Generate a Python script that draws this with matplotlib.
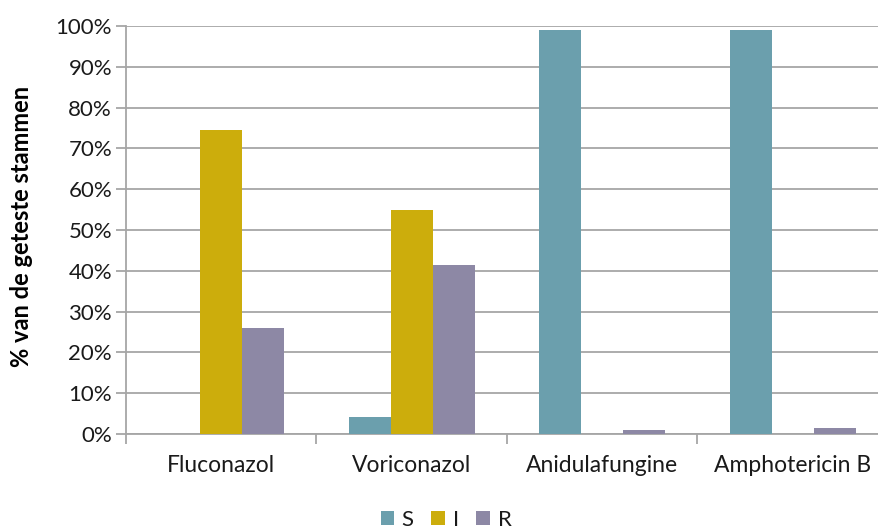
import matplotlib
matplotlib.use("Agg")
import matplotlib.pyplot as plt
import numpy as np
from matplotlib.ticker import FuncFormatter, FixedLocator

plt.rcParams['font.family'] = ['Lato', 'DejaVu Sans']

categories = ["Fluconazol", "Voriconazol", "Anidulafungine", "Amphotericin B"]
series_names = ["S", "I", "R"]
s_values = [0.0, 4.1, 99.0, 99.0]
i_values = [74.5, 54.9, 0.0, 0.0]
r_values = [26.0, 41.4, 1.0, 1.4]
y_ticks = [0, 10, 20, 30, 40, 50, 60, 70, 80, 90, 100]

colors = ["#6B9FAD", "#CCAD0C", "#8D88A5"]
grid_color = "#A6A6A6"

W, H = 879, 532
fig = plt.figure(figsize=(W / 100, H / 100), dpi=100)
left, right, top, bottom = 126, 888, 26, 434
ax = fig.add_axes([left / W, 1 - bottom / H, (right - left) / W, (bottom - top) / H])

x = np.arange(len(categories))
width = 0.22
for k, (vals, name) in enumerate(zip([s_values, i_values, r_values], series_names)):
    ax.bar(x + (k - 1) * width, vals, width, color=colors[k], label=name, zorder=3)

ax.set_xlim(-0.5, len(categories) - 0.5)
ax.set_ylim(0, 100)
ax.set_yticks(y_ticks)
ax.yaxis.set_major_formatter(FuncFormatter(lambda v, p: f"{int(v)}%"))
ax.grid(axis='y', color=grid_color, linewidth=1.3, zorder=0)
ax.set_axisbelow(True)

for s in ['top', 'right']:
    ax.spines[s].set_visible(False)
for s in ['left', 'bottom']:
    ax.spines[s].set_color(grid_color)
    ax.spines[s].set_linewidth(1.3)

ax.tick_params(axis='y', length=7, width=1.3, color=grid_color, labelsize=16,
               labelcolor="#1a1a1a", pad=3)
ax.xaxis.set_major_locator(FixedLocator(np.arange(-0.5, len(categories), 1.0)))
ax.xaxis.set_major_formatter(FuncFormatter(lambda v, p: ""))
ax.xaxis.set_minor_locator(FixedLocator(x))
ax.set_xticklabels(categories, minor=True)
ax.tick_params(axis='x', which='major', length=7, width=1.3, color=grid_color)
ax.tick_params(axis='x', which='minor', length=0, labelsize=16.5, labelcolor="#1a1a1a", pad=15)

fig.text(22 / W, 1 - 226 / H, "% van de geteste stammen", rotation=90, fontsize=17,
         fontweight='bold', ha='center', va='center')

handles, labels = ax.get_legend_handles_labels()
fig.legend(handles, labels, loc='center', bbox_to_anchor=(446 / W, 1 - 520 / H), ncol=3,
           frameon=False, fontsize=16, handlelength=0.6, handleheight=0.6,
           handletextpad=0.35, columnspacing=0.8, labelcolor="#1a1a1a")

fig.savefig("out.png", dpi=100)
